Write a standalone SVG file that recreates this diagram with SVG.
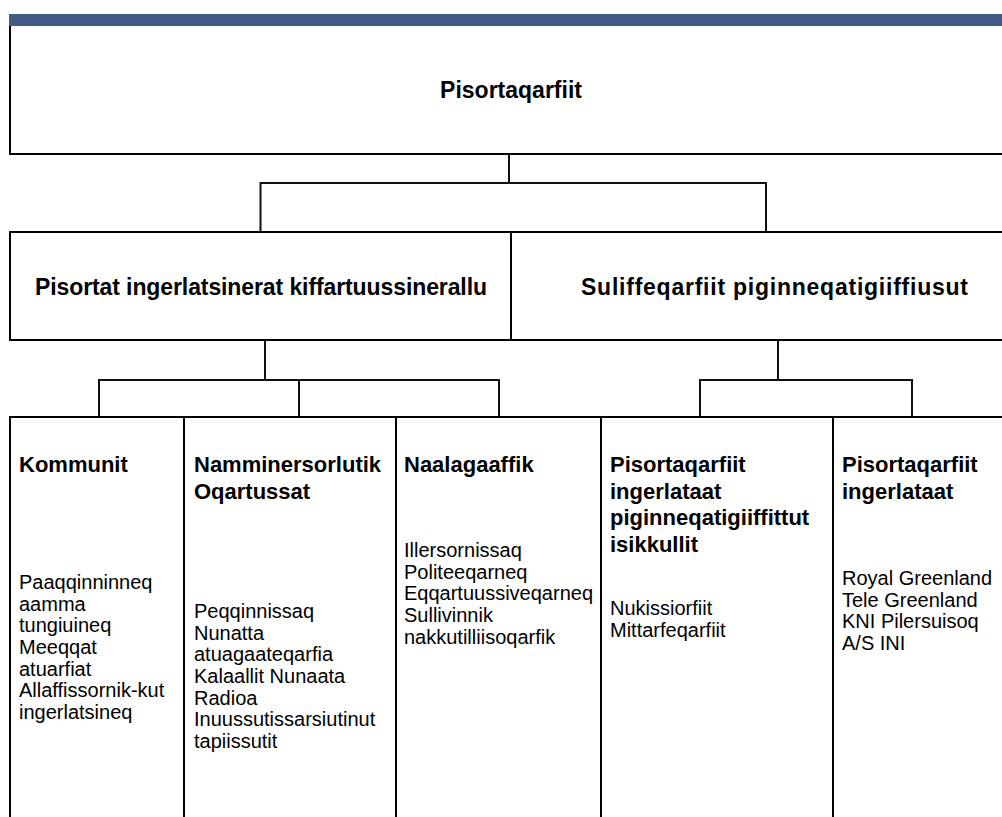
<svg xmlns="http://www.w3.org/2000/svg" width="1002" height="817" viewBox="0 0 1002 817">
<style>
.ln{stroke:#000;stroke-width:2;fill:none}
.cn{stroke:#111;stroke-width:2;fill:none}
.b{font-family:"Liberation Sans",Arial,sans-serif;font-weight:bold;font-size:22px;fill:#000}
.h{font-size:23px}
.r{font-family:"Liberation Sans",Arial,sans-serif;font-size:20px;fill:#000}
.c{text-anchor:middle}
</style>
<rect width="1002" height="817" fill="#fff"/>
<rect x="9" y="14" width="993" height="12" fill="#435a87"/>
<g id="root">
<path class="ln" d="M10,26 V154 M9,154 H1002"/>
<text class="b h c" x="511" y="98">Pisortaqarfiit</text>
</g>
<g id="public">
<path class="ln" d="M9,232 H511 M10,232 V340 M9,340 H511 M511,232 V340"/>
<text class="b h c" x="261" y="295" textLength="452">Pisortat ingerlatsinerat kiffartuussinerallu</text>
</g>
<g id="companies">
<path class="ln" d="M511,232 H1002 M511,340 H1002"/>
<text class="b h c" x="774.5" y="295" textLength="387">Suliffeqarfiit piginneqatigiiffiusut</text>
</g>
<g id="connectors">
<path class="cn" d="M509,154 V183 M260.5,231 V183 H766 V231"/>
<path class="cn" d="M265,340 V380 M99,417 V380 H499 V417 M299,380 V417"/>
<path class="cn" d="M778,340 V380 M700,417 V380 H912 V417"/>
</g>
<path class="ln" d="M9,417 H1002"/>
<g id="kommunit">
<path class="ln" d="M10,417 V817"/>
<text class="b" x="19" y="472">Kommunit</text>
<text class="r" x="19" y="589">Paaqqinninneq</text>
<text class="r" x="19" y="611">aamma</text>
<text class="r" x="19" y="632">tungiuineq</text>
<text class="r" x="19" y="654">Meeqqat</text>
<text class="r" x="19" y="676">atuarfiat</text>
<text class="r" x="19" y="697">Allaffissornik-kut</text>
<text class="r" x="19" y="719">ingerlatsineq</text>
</g>
<g id="namminersorlutik">
<path class="ln" d="M184,417 V817"/>
<text class="b" x="194" y="472">Namminersorlutik</text>
<text class="b" x="194" y="498.5">Oqartussat</text>
<text class="r" x="194" y="618">Peqqinnissaq</text>
<text class="r" x="194" y="640">Nunatta</text>
<text class="r" x="194" y="661">atuagaateqarfia</text>
<text class="r" x="194" y="683">Kalaallit Nunaata</text>
<text class="r" x="194" y="705">Radioa</text>
<text class="r" x="194" y="726">Inuussutissarsiutinut</text>
<text class="r" x="194" y="748">tapiissutit</text>
</g>
<g id="naalagaaffik">
<path class="ln" d="M396,417 V817"/>
<text class="b" x="404" y="472">Naalagaaffik</text>
<text class="r" x="404" y="557">Illersornissaq</text>
<text class="r" x="404" y="579">Politeeqarneq</text>
<text class="r" x="404" y="600">Eqqartuussiveqarneq</text>
<text class="r" x="404" y="622">Sullivinnik</text>
<text class="r" x="404" y="644">nakkutilliisoqarfik</text>
</g>
<g id="piginneqatigiiffittut">
<path class="ln" d="M601,417 V817"/>
<text class="b" x="610" y="472">Pisortaqarfiit</text>
<text class="b" x="610" y="498.5">ingerlataat</text>
<text class="b" x="610" y="525">piginneqatigiiffittut</text>
<text class="b" x="610" y="551.5">isikkullit</text>
<text class="r" x="610" y="615">Nukissiorfiit</text>
<text class="r" x="610" y="637">Mittarfeqarfiit</text>
</g>
<g id="ingerlataat">
<path class="ln" d="M833,417 V817"/>
<text class="b" x="842" y="472">Pisortaqarfiit</text>
<text class="b" x="842" y="498.5">ingerlataat</text>
<text class="r" x="842" y="585">Royal Greenland</text>
<text class="r" x="842" y="607">Tele Greenland</text>
<text class="r" x="842" y="628">KNI Pilersuisoq</text>
<text class="r" x="842" y="650">A/S INI</text>
</g>
</svg>
